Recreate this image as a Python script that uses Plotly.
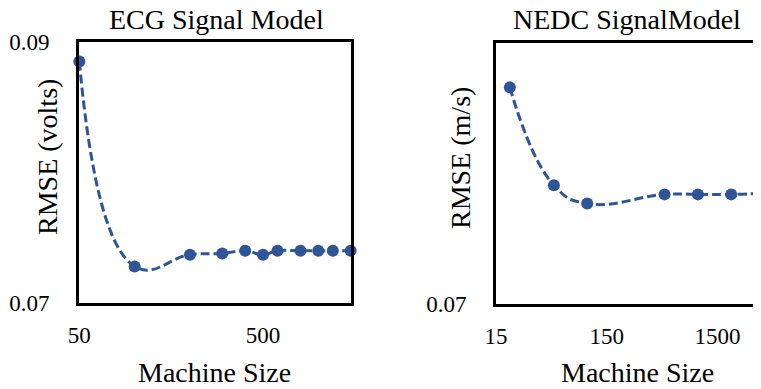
import math
import plotly.graph_objects as go

# ---- data ----
ecg_size = [50, 100, 200, 300, 400, 500, 600, 800, 1000, 1200, 1500]
ecg_rmse = [0.0885, 0.0728, 0.0737, 0.0738, 0.0740, 0.0737, 0.0740, 0.0740, 0.0740, 0.0740, 0.0740]

nedc_size = [20, 50, 100, 500, 1000, 2000, 4000]
nedc_rmse = [0.0866, 0.0791, 0.0777, 0.0784, 0.0784, 0.0784, 0.0785]

ecg_xticks = [50, 500]
nedc_xticks = [15, 150, 1500]
ecg_yticks = [0.07, 0.09]
nedc_yticks = [0.07]

titles = ["ECG Signal Model", "NEDC SignalModel"]
x_title = "Machine Size"
y_titles = ["RMSE (volts)", "RMSE (m/s)"]

# ---- style ----
W, H = 761, 389
OFF = 8  # default page body margin
BLUE = "#2F5597"
FONT = "Liberation Serif"


def fx(p):
    return (p - OFF) / W


def fy(p):
    return 1 - (p - OFF) / H


fig = go.Figure()

line_style = dict(color=BLUE, width=3, dash="9px,4px", shape="spline", smoothing=1.3)
marker_style = dict(color=BLUE, size=12)

fig.add_trace(go.Scatter(x=ecg_size, y=ecg_rmse, mode="lines+markers",
                         line=line_style, marker=marker_style,
                         xaxis="x", yaxis="y", showlegend=False, cliponaxis=False))
fig.add_trace(go.Scatter(x=nedc_size, y=nedc_rmse, mode="lines+markers",
                         line=line_style, marker=marker_style,
                         xaxis="x2", yaxis="y2", showlegend=False, cliponaxis=False))

tickfont = dict(family=FONT, size=23, color="black")
common_x = dict(type="log", showgrid=False, zeroline=False, showline=True,
                linewidth=3, linecolor="black", ticks="", tickfont=tickfont,
                ticklabelstandoff=9, automargin=False, mirror=True)
common_y = dict(showgrid=False, zeroline=False, showline=True,
                linewidth=3, linecolor="black", ticks="", tickfont=tickfont,
                tickformat=".2f", ticklabelstandoff=22, automargin=False, mirror=True)

nedc_lo = math.log10(15)
nedc_hi = nedc_lo + 272 / 110.7

fig.update_layout(
    template="none",
    width=W, height=H,
    margin=dict(l=0, r=0, t=0, b=0, pad=0),
    paper_bgcolor="white", plot_bgcolor="white",
    xaxis=dict(domain=[fx(79), fx(351)],
               range=[math.log10(50) - 0.002, math.log10(1500) + 0.002],
               tickvals=ecg_xticks, anchor="y", **common_x),
    yaxis=dict(domain=[fy(303), fy(42)], range=[0.07, 0.09], tickvals=ecg_yticks,
               anchor="x", **common_y),
    xaxis2=dict(domain=[fx(496), fx(768)], range=[nedc_lo, nedc_hi],
                tickvals=nedc_xticks, anchor="y2", **common_x),
    yaxis2=dict(domain=[fy(304), fy(43)], range=[0.07, 0.09], tickvals=nedc_yticks,
                anchor="x2", **common_y),
)

textfont = dict(family=FONT, size=28, color="black")
ann = []
ann.append(dict(text=titles[0], x=fx(216), y=fy(20), xref="paper", yref="paper",
                xanchor="center", yanchor="middle", showarrow=False, font=textfont))
ann.append(dict(text=titles[1], x=fx(627), y=fy(20), xref="paper", yref="paper",
                xanchor="center", yanchor="middle", showarrow=False, font=textfont))
ann.append(dict(text=x_title, x=fx(215), y=fy(372), xref="paper", yref="paper",
                xanchor="center", yanchor="middle", showarrow=False, font=textfont))
ann.append(dict(text=x_title, x=fx(637), y=fy(372), xref="paper", yref="paper",
                xanchor="center", yanchor="middle", showarrow=False, font=textfont))
ann.append(dict(text=y_titles[0], x=fx(47), y=fy(157), xref="paper", yref="paper",
                textangle=-90, xanchor="center", yanchor="middle", showarrow=False,
                font=textfont))
ann.append(dict(text=y_titles[1], x=fx(460), y=fy(158), xref="paper", yref="paper",
                textangle=-90, xanchor="center", yanchor="middle", showarrow=False,
                font=textfont))
fig.update_layout(annotations=ann)

fig.write_html("out.html")
